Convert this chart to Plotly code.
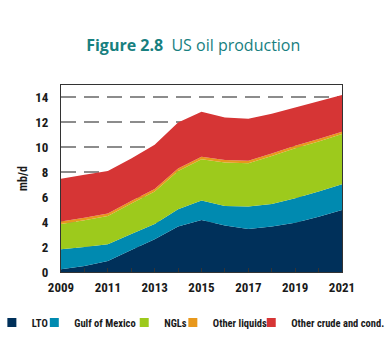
import plotly.graph_objects as go

years = list(range(2009, 2022))

# Production by source, mb/d
lto = [0.22, 0.48, 0.88, 1.77, 2.62, 3.64, 4.18, 3.72, 3.45, 3.64, 3.96, 4.44, 4.98]
gulf_of_mexico = [1.60, 1.52, 1.34, 1.28, 1.23, 1.39, 1.55, 1.58, 1.80, 1.82, 1.96, 2.01, 2.06]
ngls = [2.03, 2.15, 2.28, 2.45, 2.60, 3.07, 3.32, 3.48, 3.48, 3.84, 4.01, 4.02, 4.02]
other_liquids = [0.20, 0.20, 0.20, 0.20, 0.20, 0.20, 0.20, 0.20, 0.20, 0.20, 0.20, 0.20, 0.20]
other_crude = [3.42, 3.45, 3.40, 3.40, 3.55, 3.70, 3.60, 3.42, 3.36, 3.20, 3.07, 3.03, 2.94]

names = ["LTO", "Gulf of Mexico", "NGLs", "Other liquids", "Other crude and cond."]
values = [lto, gulf_of_mexico, ngls, other_liquids, other_crude]
colors = ["#00305A", "#008AB0", "#9DCA1C", "#E8981C", "#D63535"]

y_ticks = [0, 2, 4, 6, 8, 10, 12, 14]
x_tick_text = [str(y) if (y - 2009) % 2 == 0 else "" for y in years]

font_axis = "Roboto Condensed, DejaVu Sans, sans-serif"
ink = "#1A1A1A"

# left edge of each legend box, as a fraction of the plot width
legend_x = [-0.246, -0.095, 0.225, 0.398, 0.677]

fig = go.Figure()
for i, (name, vals, color) in enumerate(zip(names, values, colors)):
    fig.add_trace(go.Scatter(
        x=years, y=vals, name=name, mode="none",
        stackgroup="one", fillcolor=color, showlegend=False,
    ))
    # square swatch for the legend row
    leg = "legend" if i == 0 else f"legend{i + 1}"
    fig.add_trace(go.Scatter(
        x=[None], y=[None], name=name, mode="markers",
        marker=dict(symbol="square", size=9, color=color),
        legend=leg, showlegend=True,
    ))

layout_legends = {}
for i, lx in enumerate(legend_x):
    key = "legend" if i == 0 else f"legend{i + 1}"
    layout_legends[key] = dict(
        x=lx, xanchor="left", y=-0.27, yanchor="middle",
        bgcolor="rgba(0,0,0,0)", borderwidth=0,
        font=dict(family=font_axis, size=10.5, color=ink, weight="bold"),
        itemwidth=30,
    )

fig.update_layout(
    width=392, height=341,
    margin=dict(l=61, r=50, t=85, b=69, autoexpand=False),
    paper_bgcolor="white", plot_bgcolor="white",
    title=dict(
        text="<b>Figure 2.8</b>  US oil production",
        x=0.493, xanchor="center", y=0.868, yanchor="middle",
        font=dict(family="Open Sans", size=16, color="#17807F"),
    ),
    showlegend=True,
    **layout_legends,
)

fig.update_xaxes(
    range=[2009, 2021], tickvals=years, ticktext=x_tick_text, tickangle=0,
    ticks="inside", ticklen=4, tickcolor="#333", showgrid=False,
    showline=True, linecolor="#333", linewidth=1, mirror=True,
    tickfont=dict(family=font_axis, size=13, color=ink, weight="bold"),
    ticklabelstandoff=3,
    zeroline=False,
)
fig.update_yaxes(
    range=[0, 15], tickvals=y_ticks, ticks="",
    showgrid=True, gridcolor="#8C8C8C", griddash="15px,8px", gridwidth=1.5,
    showline=True, linecolor="#333", linewidth=1, mirror=True,
    tickfont=dict(family=font_axis, size=13, color=ink, weight="bold"),
    ticklabelstandoff=9, automargin=True,
    title=dict(text="mb/d", standoff=5,
               font=dict(family=font_axis, size=12, color=ink, weight="bold")),
    zeroline=False,
)

fig.write_html("out.html")
